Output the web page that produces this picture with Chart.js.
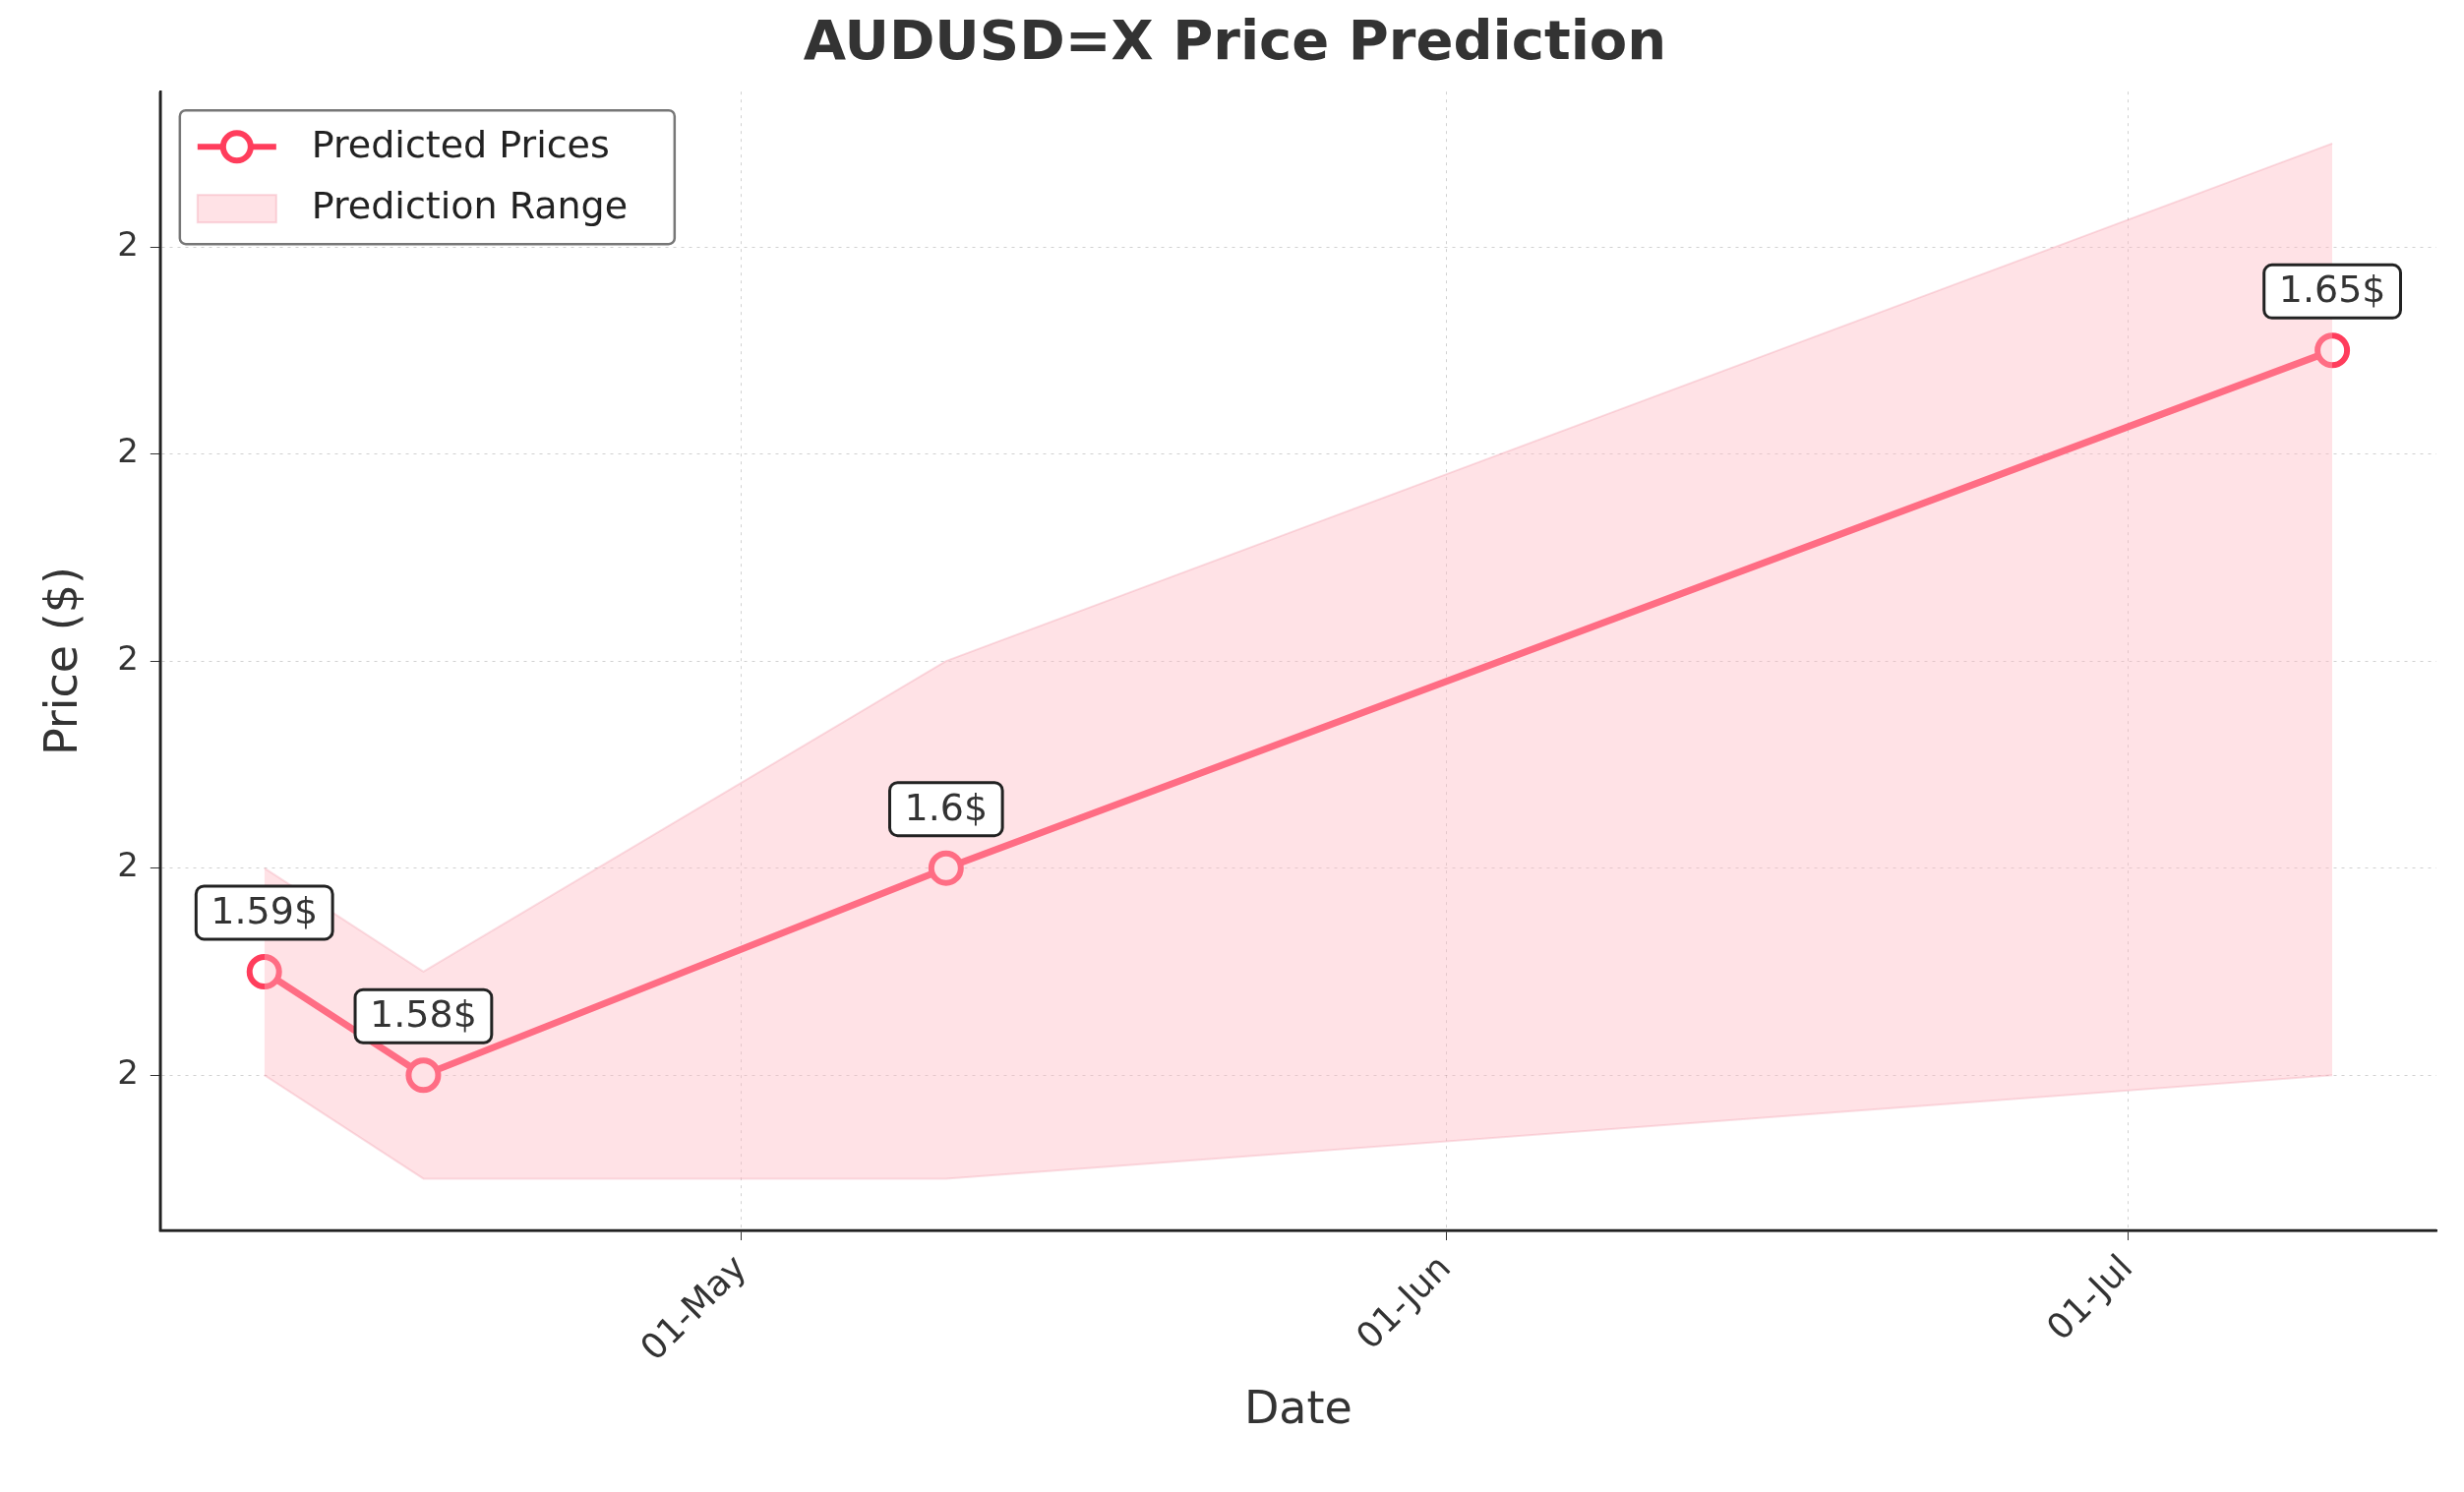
<!DOCTYPE html>
<html><head><meta charset="utf-8">
<script src="https://cdn.jsdelivr.net/npm/chart.js@4"></script>
<style>html,body{margin:0;background:#fff}#c{display:block}</style>
</head><body>
<canvas id="c" width="2505" height="1517"></canvas>
<script>
// data
const dates = ['2024-04-10', '2024-04-17', '2024-05-10', '2024-07-10'];
const predicted = [1.59, 1.58, 1.60, 1.65];
const upperRange = [1.60, 1.59, 1.62, 1.67];
const lowerRange = [1.58, 1.57, 1.57, 1.58];
const labels = ['1.59$', '1.58$', '1.6$', '1.65$'];
const tickDates = ['2024-05-01', '2024-06-01', '2024-07-01'];
const tickNames = ['01-May', '01-Jun', '01-Jul'];

const ts = d => Date.parse(d + 'T00:00:00Z');
const xs = dates.map(ts);
const tickTs = tickDates.map(ts);
const pts = arr => arr.map((v, i) => ({x: xs[i], y: v}));
const FONT = '"DejaVu Sans", sans-serif';
const RED = '#ff3d5c';

const overlay = {
  id: 'overlay',
  afterDatasetsDraw(chart) {
    const ctx = chart.ctx, xS = chart.scales.x, yS = chart.scales.y;
    ctx.save();
    ctx.font = '38px ' + FONT;
    ctx.textAlign = 'center'; ctx.textBaseline = 'middle';
    predicted.forEach((v, i) => {
      const px = xS.getPixelForValue(xs[i]), py = yS.getPixelForValue(v) - 60;
      const w = ctx.measureText(labels[i]).width + 30, h = 54;
      ctx.beginPath();
      ctx.roundRect(px - w / 2, py - h / 2, w, h, 8);
      ctx.fillStyle = '#fff'; ctx.fill();
      ctx.lineWidth = 3; ctx.strokeStyle = '#222'; ctx.stroke();
      ctx.fillStyle = '#333';
      ctx.fillText(labels[i], px, py + 1);
    });
    // legend
    const a = chart.chartArea, lx = a.left + 20, ly = a.top + 19;
    ctx.beginPath(); ctx.roundRect(lx, ly, 503, 136, 6);
    ctx.fillStyle = 'rgba(255,255,255,0.85)'; ctx.fill();
    ctx.lineWidth = 2.5; ctx.strokeStyle = '#777'; ctx.stroke();
    ctx.strokeStyle = RED; ctx.lineWidth = 6;
    ctx.beginPath(); ctx.moveTo(lx + 18, ly + 37); ctx.lineTo(lx + 98, ly + 37); ctx.stroke();
    ctx.beginPath(); ctx.arc(lx + 58, ly + 37, 14, 0, Math.PI * 2);
    ctx.fillStyle = '#fff'; ctx.fill(); ctx.stroke();
    ctx.fillStyle = 'rgba(255,182,193,0.4)'; ctx.fillRect(lx + 18, ly + 86, 80, 28);
    ctx.strokeStyle = 'rgba(240,150,165,0.35)'; ctx.lineWidth = 2; ctx.strokeRect(lx + 18, ly + 86, 80, 28);
    ctx.fillStyle = '#222'; ctx.textAlign = 'left'; ctx.font = '38px ' + FONT;
    ctx.fillText('Predicted Prices', lx + 134, ly + 38);
    ctx.fillText('Prediction Range', lx + 134, ly + 100);
    ctx.restore();
  }
};

new Chart(document.getElementById('c'), {
  type: 'line',
  data: {
    datasets: [
      {data: pts(lowerRange), borderColor: 'rgba(240,150,165,0.3)', borderWidth: 2, pointRadius: 0, fill: false, tension: 0},
      {data: pts(upperRange), borderColor: 'rgba(240,150,165,0.3)', borderWidth: 2, pointRadius: 0,
       fill: '-1', backgroundColor: 'rgba(255,182,193,0.4)', tension: 0},
      {data: pts(predicted), borderColor: RED, borderWidth: 7, pointRadius: 15, pointBorderWidth: 6,
       pointBackgroundColor: '#fff', pointBorderColor: RED, fill: false, tension: 0}
    ]
  },
  options: {
    responsive: false, animation: false, devicePixelRatio: 1,
    layout: {padding: {top: 8, right: 28, left: 34, bottom: 50}},
    plugins: {
      legend: {display: false}, tooltip: {enabled: false},
      title: {display: true, text: 'AUDUSD=X Price Prediction', color: '#333',
        font: {family: FONT, size: 56, weight: 'bold'}, padding: {top: 4, bottom: 14}}
    },
    scales: {
      x: {
        type: 'linear', min: ts('2024-04-05') + 10 * 3600000, max: ts('2024-07-14') + 14 * 3600000,
        afterBuildTicks: s => { s.ticks = tickTs.map(v => ({value: v})); },
        ticks: {callback: v => tickNames[tickTs.indexOf(v)], maxRotation: 45, minRotation: 45, autoSkip: false,
          color: '#333', font: {family: FONT, size: 36}, padding: 8},
        grid: {color: 'rgba(0,0,0,0.18)', tickLength: 10, tickColor: '#333'},
        border: {color: '#222', width: 2.5, dash: [3, 5]},
        title: {display: true, text: 'Date', color: '#333', font: {family: FONT, size: 46}, padding: {top: 6}}
      },
      y: {
        min: 1.565, max: 1.675,
        afterBuildTicks: s => { s.ticks = [1.58, 1.60, 1.62, 1.64, 1.66].map(v => ({value: v})); },
        ticks: {callback: v => Math.round(v).toString(), color: '#333', font: {family: FONT, size: 34}, padding: 12},
        grid: {color: 'rgba(0,0,0,0.18)', tickLength: 10, tickColor: '#333'},
        border: {color: '#222', width: 2.5, dash: [3, 5]},
        title: {display: true, text: 'Price ($)', color: '#333', font: {family: FONT, size: 46}, padding: {bottom: 14}}
      }
    }
  },
  plugins: [overlay, {
    id: 'spines',
    afterDraw(chart) {
      const c = chart.ctx, a = chart.chartArea;
      c.save(); c.strokeStyle = '#222'; c.lineWidth = 2.5; c.setLineDash([]);
      c.beginPath(); c.moveTo(a.left, a.top); c.lineTo(a.left, a.bottom); c.lineTo(a.right, a.bottom); c.stroke();
      c.restore();
    }
  }]
});
</script>
</body></html>
